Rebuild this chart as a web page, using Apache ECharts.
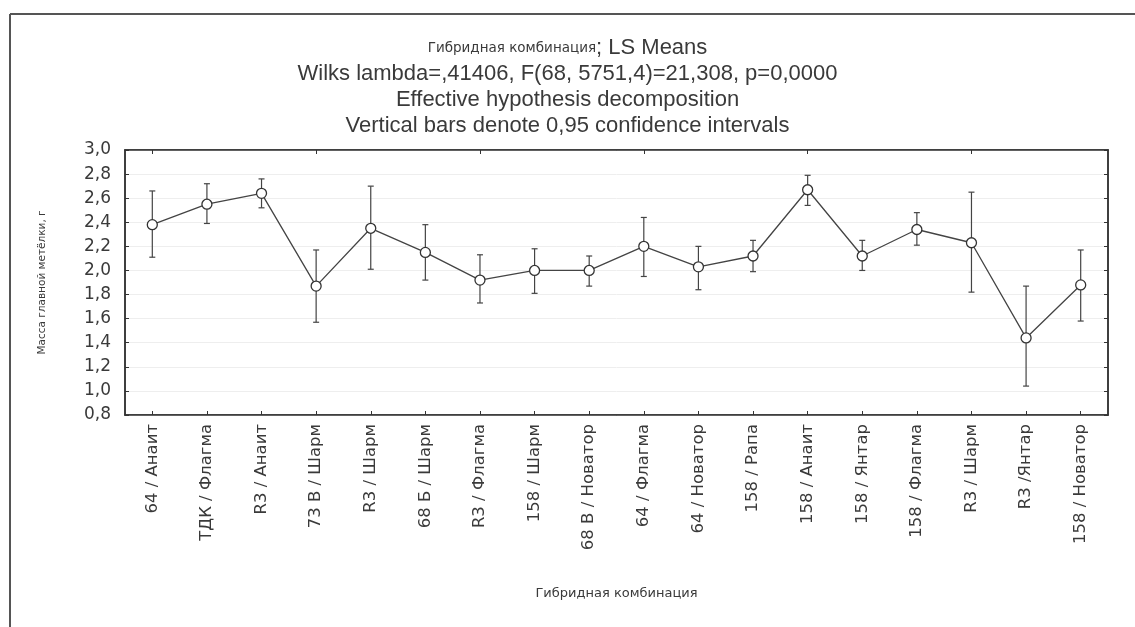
<!DOCTYPE html>
<html>
<head>
<meta charset="utf-8">
<script src="https://cdn.jsdelivr.net/npm/echarts@6/dist/echarts.min.js"></script>
<style>
  html, body { margin: 0; padding: 0; background: #fff; }
  #chart { width: 1135px; height: 627px; }
</style>
</head>
<body>
<div id="chart"></div>
<script>
// Hybrid combinations (x categories)
const categories = [
  '64 / Анаит', 'ТДК / Флагма', 'R3 / Анаит', '73 В / Шарм', 'R3 / Шарм',
  '68 Б / Шарм', 'R3 / Флагма', '158 / Шарм', '68 В / Новатор', '64 / Флагма',
  '64 / Новатор', '158 / Рапа', '158 / Анаит', '158 / Янтар', '158 / Флагма',
  'R3 / Шарм', 'R3 /Янтар', '158 / Новатор'
];
// LS means of panicle mass, g
const means = [2.38, 2.55, 2.64, 1.87, 2.35, 2.15, 1.92, 2.00, 2.00, 2.20, 2.03, 2.12, 2.67, 2.12, 2.34, 2.23, 1.44, 1.88];
// 95% confidence limits
const lower = [2.11, 2.39, 2.52, 1.57, 2.01, 1.92, 1.73, 1.81, 1.87, 1.95, 1.84, 1.99, 2.54, 2.00, 2.21, 1.82, 1.04, 1.58];
const upper = [2.66, 2.72, 2.76, 2.17, 2.70, 2.38, 2.13, 2.18, 2.12, 2.44, 2.20, 2.25, 2.79, 2.25, 2.48, 2.65, 1.87, 2.17];

const FONT = 'DejaVu Sans';
const TITLE_FONT = 'Liberation Sans';
const INK = '#3a3a3a';

const chart = echarts.init(document.getElementById('chart'), null, { renderer: 'canvas' });

const errorData = categories.map((c, i) => [i, lower[i], upper[i]]);

const option = {
  backgroundColor: '#ffffff',
  animation: false,
  textStyle: { fontFamily: FONT, color: INK },
  title: [
    {
      text: '{s|Гибридная комбинация}{m|; LS Means}',
      left: 'center', top: 32,
      textStyle: {
        rich: {
          s: { fontSize: 13.5, fontWeight: 'normal', fontFamily: FONT, color: INK },
          m: { fontSize: 22, fontWeight: 'normal', fontFamily: TITLE_FONT, color: INK }
        }
      }
    },
    {
      text: 'Wilks lambda=,41406, F(68, 5751,4)=21,308, p=0,0000',
      left: 'center', top: 58,
      textStyle: { fontSize: 22, fontWeight: 'normal', fontFamily: TITLE_FONT, color: INK }
    },
    {
      text: 'Effective hypothesis decomposition',
      left: 'center', top: 84,
      textStyle: { fontSize: 22, fontWeight: 'normal', fontFamily: TITLE_FONT, color: INK }
    },
    {
      text: 'Vertical bars denote 0,95 confidence intervals',
      left: 'center', top: 110,
      textStyle: { fontSize: 22, fontWeight: 'normal', fontFamily: TITLE_FONT, color: INK }
    }
  ],
  grid: {
    left: 125, right: 27, top: 150, bottom: 212,
    show: true, borderColor: '#333', borderWidth: 1.5, backgroundColor: 'transparent'
  },
  xAxis: [
    {
      type: 'category',
      data: categories,
      boundaryGap: true,
      name: 'Гибридная комбинация',
      nameLocation: 'middle',
      nameGap: 172,
      nameTextStyle: { fontSize: 13, fontFamily: FONT, color: INK },
      axisLine: { show: true, lineStyle: { color: '#333', width: 1.5 } },
      axisTick: { show: true, inside: true, alignWithLabel: true, length: 4, lineStyle: { color: '#333' } },
      axisLabel: { rotate: 90, fontSize: 16.5, fontFamily: FONT, color: INK, margin: 9, interval: 0 },
      splitLine: { show: false }
    },
    {
      type: 'category',
      data: categories,
      position: 'top',
      boundaryGap: true,
      axisLine: { show: true, lineStyle: { color: '#333', width: 1.5 } },
      axisTick: { show: true, inside: true, alignWithLabel: true, length: 4, lineStyle: { color: '#333' } },
      axisLabel: { show: false },
      splitLine: { show: false }
    }
  ],
  yAxis: [
    {
      type: 'value',
      min: 0.8, max: 3.0, interval: 0.2,
      name: 'Масса главной метёлки, г',
      nameLocation: 'middle',
      nameGap: 77,
      nameRotate: 90,
      nameTextStyle: { fontSize: 10.5, fontFamily: FONT, color: INK },
      axisLine: { show: true, lineStyle: { color: '#333', width: 1.5 } },
      axisTick: { show: true, inside: true, length: 4, lineStyle: { color: '#333' } },
      axisLabel: {
        fontSize: 17, fontFamily: FONT, color: INK, margin: 14,
        formatter: v => v.toFixed(1).replace('.', ',')
      },
      splitLine: { show: true, lineStyle: { color: '#eeeeee', width: 1 } }
    },
    {
      type: 'value',
      min: 0.8, max: 3.0, interval: 0.2,
      position: 'right',
      axisLine: { show: true, lineStyle: { color: '#333', width: 1.5 } },
      axisTick: { show: true, inside: true, length: 4, lineStyle: { color: '#333' } },
      axisLabel: { show: false },
      splitLine: { show: false }
    }
  ],
  series: [
    {
      type: 'custom',
      name: 'CI',
      xAxisIndex: 0, yAxisIndex: 0,
      data: errorData,
      z: 2,
      renderItem: function (params, api) {
        const x = api.value(0);
        const lo = api.coord([x, api.value(1)]);
        const hi = api.coord([x, api.value(2)]);
        const cap = 3;
        const style = { stroke: '#444', lineWidth: 1.2, fill: null };
        return {
          type: 'group',
          children: [
            { type: 'line', shape: { x1: lo[0], y1: lo[1], x2: hi[0], y2: hi[1] }, style },
            { type: 'line', shape: { x1: hi[0] - cap, y1: hi[1], x2: hi[0] + cap, y2: hi[1] }, style },
            { type: 'line', shape: { x1: lo[0] - cap, y1: lo[1], x2: lo[0] + cap, y2: lo[1] }, style }
          ]
        };
      }
    },
    {
      type: 'line',
      name: 'LS Means',
      xAxisIndex: 0, yAxisIndex: 0,
      data: means,
      z: 3,
      symbol: 'circle',
      symbolSize: 10,
      lineStyle: { color: '#444', width: 1.3 },
      itemStyle: { color: '#ffffff', borderColor: '#333', borderWidth: 1.3 }
    }
  ],
  graphic: [
    // outer frame around the figure (top and left edges)
    { type: 'line', shape: { x1: 10, y1: 14, x2: 1135, y2: 14 }, style: { stroke: '#555', lineWidth: 2 } },
    { type: 'line', shape: { x1: 10, y1: 14, x2: 10, y2: 627 }, style: { stroke: '#555', lineWidth: 2 } }
  ]
};

chart.setOption(option);
</script>
</body>
</html>
